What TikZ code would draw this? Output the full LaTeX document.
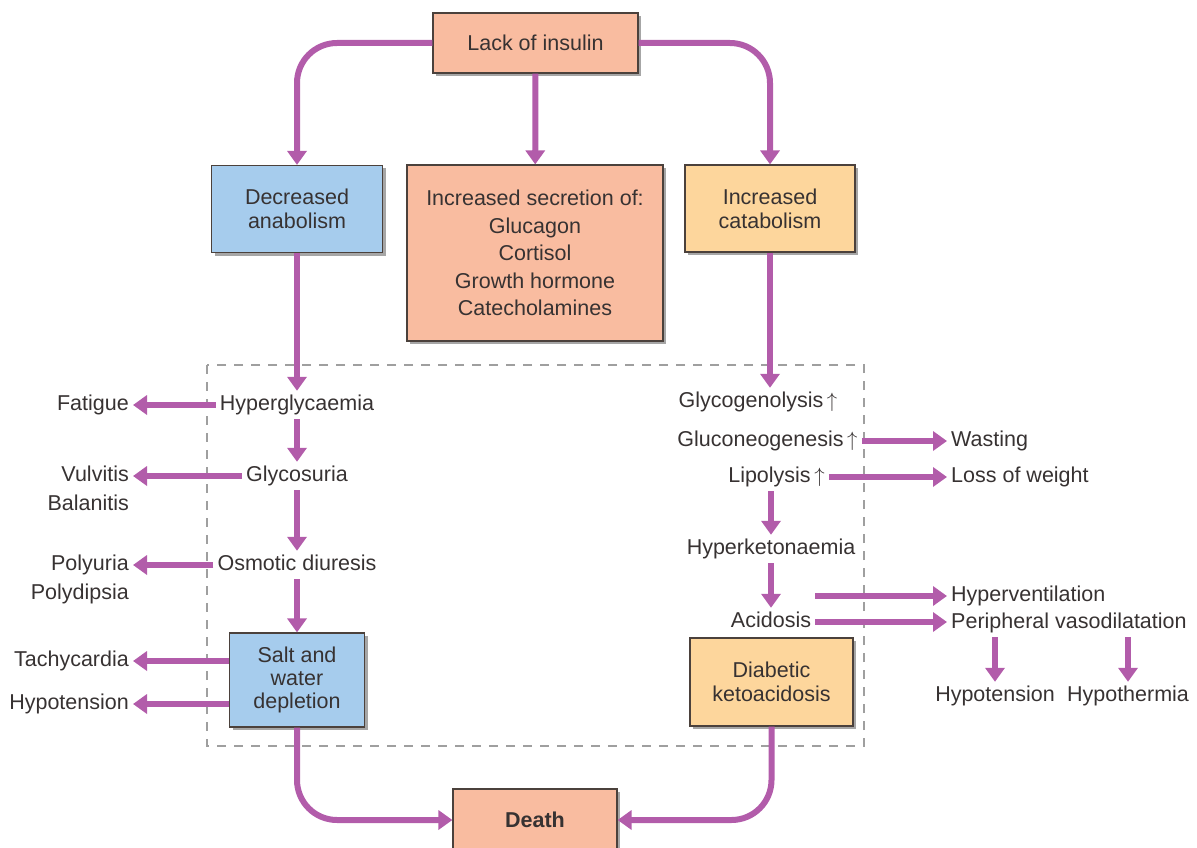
\documentclass[tikz,border=0pt]{standalone}
\usepackage{fontspec}
\setmainfont{Liberation Sans}
\usetikzlibrary{arrows.meta,shadows}
\definecolor{flowpurple}{RGB}{178,92,170}
\definecolor{salmon}{RGB}{249,188,160}
\definecolor{skyblue}{RGB}{166,204,237}
\definecolor{apricot}{RGB}{253,214,156}
\definecolor{boxline}{RGB}{75,65,60}
\definecolor{inktext}{RGB}{55,50,50}

\begin{document}
\begin{tikzpicture}
  [x=1pt,y=-1pt,
   every node/.style={font=\fontsize{21.5}{24}\selectfont,text=inktext},
   box/.style={draw=boxline,line width=1.2pt,align=center,inner sep=2pt,
     drop shadow={shadow xshift=3pt,shadow yshift=-3pt,opacity=.35,fill=black}},
   lbl/.style={inner sep=4pt,text height=15pt,text depth=5pt},
   flow/.style={draw,color=flowpurple,line width=6pt,-{Triangle[width=19pt,length=14pt]}},
   frame/.style={draw=gray!75,line width=1.5pt,dash pattern=on 9pt off 8pt}]
  \useasboundingbox (0,0) rectangle (1197,848);
  \draw[frame] (207,365) rectangle (864,746);

  \node[box,fill=salmon,minimum width=205pt,minimum height=60pt] (lack) at (535.5,43) {Lack of insulin};
  \node[box,fill=skyblue,minimum width=171pt,minimum height=87pt] (dec) at (297,209) {Decreased\\anabolism};
  \node[box,fill=salmon,minimum width=256pt,minimum height=176pt,
        font=\fontsize{21.5}{27.5}\selectfont] (secr) at (535,253)
        {Increased secretion of:\\Glucagon\\Cortisol\\Growth hormone\\Catecholamines};
  \node[box,fill=apricot,minimum width=170pt,minimum height=87pt] (catab) at (770,208.5) {Increased\\catabolism};

  \node[lbl] (hyper) at (297,405) {Hyperglycaemia};
  \node[lbl] (glycos) at (297,476) {Glycosuria};
  \node[lbl] (osmo) at (297,565) {Osmotic diuresis};
  \node[box,fill=skyblue,minimum width=135pt,minimum height=94pt,
        font=\fontsize{21.5}{23}\selectfont] (salt) at (297,680) {Salt and\\water\\depletion};

  \node[lbl,anchor=east] (fatigue) at (133,405) {Fatigue};
  \node[lbl,anchor=east] (vulv) at (133,476) {Vulvitis};
  \node[lbl,anchor=east] (balan) at (133,505) {Balanitis};
  \node[lbl,anchor=east] (polyu) at (133,565) {Polyuria};
  \node[lbl,anchor=east] (polyd) at (133,594) {Polydipsia};
  \node[lbl,anchor=east] (tachy) at (133,661) {Tachycardia};
  \node[lbl,anchor=east] (hypoL) at (133,704) {Hypotension};

  \node[lbl] (glycogen) at (758,402) {Glycogenolysis\,$\uparrow$};
  \node[lbl] (gluco) at (767.5,441) {Gluconeogenesis\,$\uparrow$};
  \node[lbl] (lipo) at (776.5,477) {Lipolysis\,$\uparrow$};
  \node[lbl] (hyperket) at (771,549) {Hyperketonaemia};
  \node[lbl] (acid) at (771,622) {Acidosis};
  \node[box,fill=apricot,minimum width=163pt,minimum height=88pt] (dka) at (771.5,682) {Diabetic\\ketoacidosis};

  \node[lbl,anchor=west] (wasting) at (947,441) {Wasting};
  \node[lbl,anchor=west] (loss) at (947,477) {Loss of weight};
  \node[lbl,anchor=west] (hypervent) at (947,596) {Hyperventilation};
  \node[lbl,anchor=west] (periph) at (947,623) {Peripheral vasodilatation};
  \node[lbl] (hypoR) at (995,696) {Hypotension};
  \node[lbl] (hypoth) at (1128,696) {Hypothermia};

  \node[box,fill=salmon,minimum width=164pt,minimum height=62pt,
        font=\fontsize{21.5}{24}\selectfont\bfseries] (death) at (535,820) {Death};

  \draw[flow,rounded corners=40pt] (lack) -| (dec);
  \draw[flow,rounded corners=40pt] (lack) -| (catab);
  \draw[flow,rounded corners=40pt] (salt) |- (death);
  \draw[flow,rounded corners=40pt] (dka) |- (death);

\path[every edge/.style={flow}]
    (lack) edge (secr)
    (dec) edge (hyper)
    (hyper) edge (glycos)
    (glycos) edge (osmo)
    (osmo) edge (salt)
    (hyper) edge (fatigue)
    (glycos) edge (vulv)
    (osmo) edge (polyu)
    (tachy.east -| salt.west) edge (tachy)
    (hypoL.east -| salt.west) edge (hypoL)
    (catab) edge (catab.south |- glycogen.north)
    (gluco) edge (wasting)
    (lipo) edge (loss)
    (hyperket.north |- lipo.south) edge (hyperket)
    (hyperket) edge (acid)
    (hypervent.west -| acid.east) edge (hypervent)
    (acid) edge (acid -| periph.west)
    (hypoR.north |- periph.south) edge (hypoR)
    (hypoth.north |- periph.south) edge (hypoth)
    ;

\end{tikzpicture}
\end{document}
